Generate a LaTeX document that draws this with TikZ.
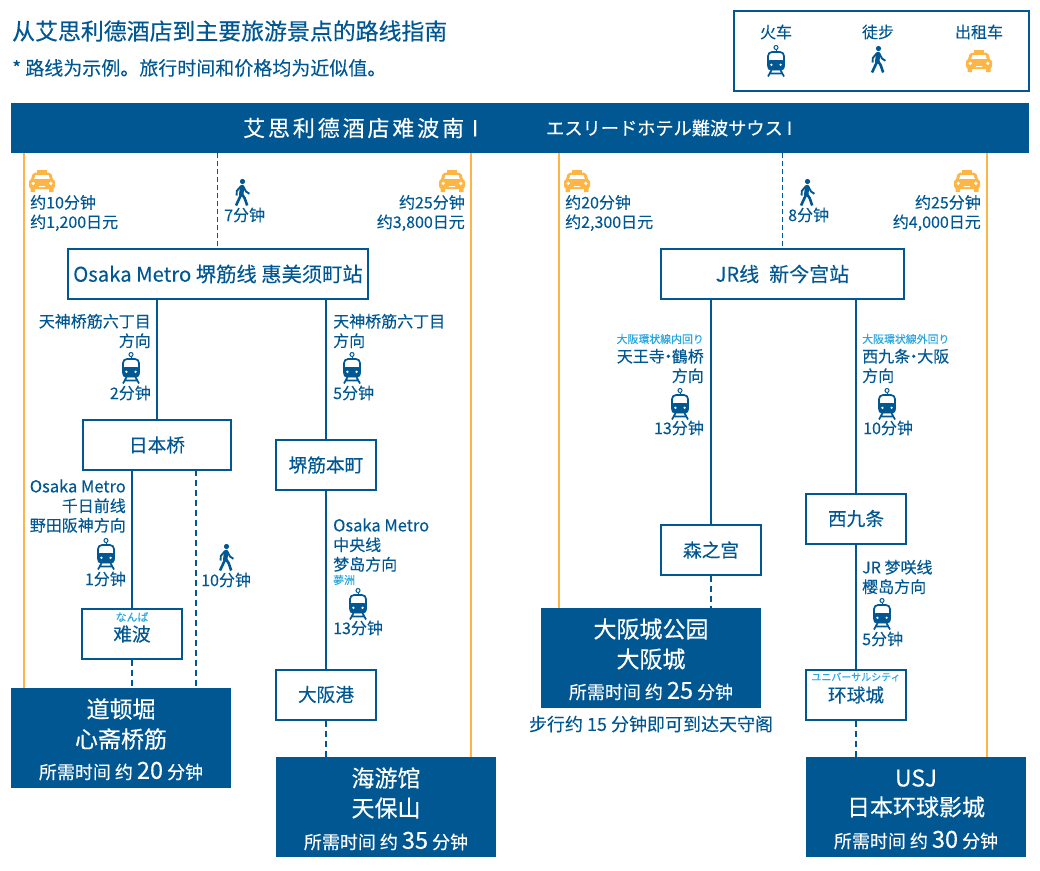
\documentclass[tikz,border=0pt]{standalone}
\usepackage{fontspec}
\setmainfont[FakeBold=0.12]{Noto Sans CJK SC}
\newfontfamily\jpfont[FakeBold=0.12]{Noto Sans CJK JP}
\newfontfamily\medfont[FakeBold=0.35]{Noto Sans CJK SC}
\usetikzlibrary{positioning,calc}
\definecolor{my blue}{HTML}{005792}
\definecolor{my yellow}{HTML}{FDB546}
\definecolor{my sky}{HTML}{29A6DE}
\newcommand{\middot}{\kern-4.5pt·\kern-4.5pt}
\tikzset{
  my text/.style={
    text=my blue,
    inner sep=0pt,
    font=\fontsize{16}{19.5}\selectfont
  },
  my small/.style={
    text=my sky,
    inner sep=0pt,
    font=\jpfont\fontsize{10.9}{12}\selectfont
  },
  my station/.style={
    draw=my blue,
    line width=2pt,
    text=my blue,
    minimum height=50pt,
    inner sep=0pt,
    font=\fontsize{18.7}{24}\selectfont
  },
  my goal/.style={
    fill=my blue,
    minimum width=220pt,
    minimum height=100pt,
    inner sep=0pt
  },
  my goal text/.style={
    text=white,
    inner sep=0pt,
    font=\medfont\fontsize{23}{27}\selectfont
  },
  my time/.style={
    text=white,
    inner sep=0pt,
    font=\fontsize{18}{22}\selectfont
  },
  my rail/.style={draw=my blue,line width=2pt},
  my walk/.style={draw=my blue,line width=2pt,dash pattern=on 6pt off 4pt},
  my thin walk/.style={draw=my blue,line width=1.3pt,dash pattern=on 5pt off 3pt},
  my taxi/.style={draw=my yellow,line width=2pt},
  pics/train icon/.style={code={
    \draw[my blue,line width=1pt] (0,-13.5) circle (2);
    \draw[my blue,line width=1pt] (0,-11.5) -- (0,-9);
    \draw[my blue,line width=1.7pt,rounded corners=4pt] (-8,-9) rectangle (8,8.5);
    \fill[my blue,rounded corners=2.5pt] (-8.5,-1) rectangle (8.5,9);
    \fill[white] (-4.6,3.8) circle (1.3) (4.6,3.8) circle (1.3);
    \draw[my blue,line width=1.7pt] (-4.5,9) -- (-8,15.5) (4.5,9) -- (8,15.5) (-6,12.5) -- (6,12.5);
  }},
  pics/walk icon/.style={code={
    \fill[my blue] (0.5,-11.5) circle (2.6);
    \draw[my blue,line width=4.4pt,line cap=round] (0.2,-6) -- (-0.8,1.5);
    \draw[my blue,line width=2.6pt] (-0.6,1) -- (-6,12.5);
    \draw[my blue,line width=2.6pt] (-0.2,1) -- (2.6,5) -- (5.2,12.5);
    \draw[my blue,line width=1.9pt] (1,-7) -- (4,-1.5) -- (7.4,0.8);
    \draw[my blue,line width=1.9pt] (-1,-7) -- (-5.2,-2) -- (-5.4,2.5);
  }},
  pics/taxi icon/.style={code={
    \fill[my yellow] (-5,-11.5) rectangle (5,-8);
    \fill[my yellow,rounded corners=2pt] (-9,-8.5) -- (9,-8.5) -- (11.5,0) -- (-11.5,0) -- cycle;
    \fill[white] (-6.5,-5.8) -- (6.5,-5.8) -- (8,-1.5) -- (-8,-1.5) -- cycle;
    \fill[my yellow,rounded corners=3pt] (-13,-2) rectangle (13,8);
    \fill[my yellow] (-11.5,7) rectangle (-7,11) (7,7) rectangle (11.5,11);
    \fill[white] (-8.8,2.4) circle (1.8) (8.8,2.4) circle (1.8) (-3.2,5) rectangle (3.2,6);
  }}
}
\begin{document}
\begin{tikzpicture}[x=1pt,y=-1pt]
\useasboundingbox (0,0) rectangle (1040,870);
% heading and legend
\node[my text,anchor=west,font=\medfont\fontsize{22.9}{26}\selectfont,text=my blue] (title) at (12,31) {从艾思利德酒店到主要旅游景点的路线指南};
\node[my text,anchor=west,font=\fontsize{19}{23}\selectfont] (note) at (12,68) {* 路线为示例。旅行时间和价格均为近似值。};
\node[draw=my blue,line width=2pt,minimum width=295pt,minimum height=80pt] (legend) at (881,50.5) {};
\node[my text] (legendtrain) at (776,32) {火车};
\node[my text] (legendwalk) at (878,32) {徒步};
\node[my text] (legendtaxi) at (979,32) {出租车};
\pic at (776,61) {train icon};
\pic at (878,60) {walk icon};
\pic at (979,61) {taxi icon};
% hotel
\node[fill=my blue,minimum width=1018pt,minimum height=50pt,inner sep=0pt] (hotel) at (520,128) {};
\node[my goal text,anchor=west,font=\medfont\fontsize{22}{26}\selectfont\addfontfeature{LetterSpace=13}] (hotelzh) at (243,128) {艾思利德酒店难波南 I};
\node[my goal text,anchor=west,font=\jpfont\fontsize{18.2}{22}\selectfont\addfontfeature{FakeBold=0.35}] (hoteljp) at (546,128) {エスリードホテル難波サウス I};
% stations
\node[my station,minimum width=300pt,font=\fontsize{20.3}{24}\selectfont] (metro) at (218,274) {Osaka Metro 堺筋线 惠美须町站};
\node[my station,minimum width=243pt,font=\fontsize{20}{24}\selectfont] (jr) at (782.5,274) {JR线\hspace{0.5em}新今宫站};
\node[my station,minimum width=148pt] (nihonbashi) at (157,445) {日本桥};
\node[my station,minimum width=100pt] (sakaisuji) at (326,465) {堺筋本町};
\node[my station,minimum width=100pt] (namba) at (132,634) {\raisebox{-5pt}{难波}};
\node[my station,minimum width=100pt] (osakako) at (326,694.5) {大阪港};
\node[my station,minimum width=100pt] (morinomiya) at (711,550) {森之宫};
\node[my station,minimum width=100pt] (nishikujo) at (856,518.5) {西九条};
\node[my station,minimum width=100pt] (universal) at (856,695) {\raisebox{-3pt}{环球城}};
\node[my small] (nambakana) at (132,617) {なんば};
\node[my small,font=\jpfont\fontsize{10}{12}\selectfont] (universalkana) at (856,677) {ユニバーサルシティ};
% goals
\node[my goal] (dotonbori) at (121,738) {};
\node[my goal] (kaiyukan) at (386,807) {};
\node[my goal] (castle) at (651,658) {};
\node[my goal] (usj) at (916,807) {};
\node[my goal text] (dotonboria) at (121,709) {道顿堀};
\node[my goal text] (dotonborib) at (121,739) {心斋桥筋};
\node[my time] (dotonboric) at (121,771) {所需时间 约 {\medfont\fontsize{23.5}{22}\selectfont 20} 分钟};
\node[my goal text] (kaiyukana) at (386,778) {海游馆};
\node[my goal text] (kaiyukanb) at (386,808) {天保山};
\node[my time] (kaiyukanc) at (386,841) {所需时间 约 {\medfont\fontsize{23.5}{22}\selectfont 35} 分钟};
\node[my goal text] (castlea) at (651,629) {大阪城公园};
\node[my goal text] (castleb) at (651,659) {大阪城};
\node[my time] (castlec) at (651,691) {所需时间 约 {\medfont\fontsize{23.5}{22}\selectfont 25} 分钟};
\node[my goal text] (usja) at (916,778) {USJ};
\node[my goal text] (usjb) at (916,807) {日本环球影城};
\node[my time] (usjc) at (916,840) {所需时间 约 {\medfont\fontsize{23.5}{22}\selectfont 30} 分钟};
\node[my text,font=\fontsize{18}{22}\selectfont] (castlewalk) at (651,724) {步行约 15 分钟即可到达天守阁};
% connector ends on the hotel and on the stations
\coordinate (t1) at (24,153);
\coordinate (t2) at (470.5,153);
\coordinate (t3) at (559,153);
\coordinate (t4) at (987,153);
\coordinate (w1) at (217.5,153);
\coordinate (w2) at (782.5,153);
\coordinate (m1) at (157,299);
\coordinate (m2) at (325.5,299);
\coordinate (j1) at (711,299);
\coordinate (j2) at (855.5,299);
\coordinate (n1) at (132,470);
\coordinate (n2) at (195.5,470);
% taxis
\draw[my taxi] (t1) -- (t1 |- dotonbori.north);
\draw[my taxi] (t2) -- (t2 |- kaiyukan.north);
\draw[my taxi] (t3) -- (t3 |- castle.north);
\draw[my taxi] (t4) -- (t4 |- usj.north);
% walks
\draw[my thin walk] (w1) -- (w1 |- metro.north);
\draw[my thin walk] (w2) -- (w2 |- jr.north);
\draw[my walk] (n2) -- (n2 |- dotonbori.north);
\draw[my walk] (namba) -- (namba |- dotonbori.north);
\draw[my walk] (osakako) -- (osakako |- kaiyukan.north);
\draw[my walk] (morinomiya) -- (morinomiya |- castle.north);
\draw[my walk] (universal) -- (universal |- usj.north);
% rails
\draw[my rail] (m1) -- (m1 |- nihonbashi.north);
\draw[my rail] (m2) -- (m2 |- sakaisuji.north);
\draw[my rail] (n1) -- (n1 |- namba.north);
\draw[my rail] (sakaisuji) -- (sakaisuji |- osakako.north);
\draw[my rail] (j1) -- (j1 |- morinomiya.north);
\draw[my rail] (j2) -- (j2 |- nishikujo.north);
\draw[my rail] (nishikujo) -- (nishikujo |- universal.north);
% icons
\foreach \x/\y in {42/181,452/181,577/181,967/181}
  \pic at (\x,\y) {taxi icon};
\foreach \x/\y in {242/193,807/193,226/558}
  \pic at (\x,\y) {walk icon};
\foreach \x/\y in {131/368,352/368,106/554,358/604,680/404,887/404,882/614}
  \pic at (\x,\y) {train icon};
% hotel to stations
\node[my text,anchor=west,align=left] (taxia) at (30,213) {约10分钟\\约1,200日元};
\node[my text,anchor=west] (walka) at (224,215) {7分钟};
\node[my text,anchor=east,align=right] (taxib) at (465,213) {约25分钟\\约3,800日元};
\node[my text,anchor=west,align=left] (taxic) at (565,213) {约20分钟\\约2,300日元};
\node[my text,anchor=west] (walkb) at (788,215) {8分钟};
\node[my text,anchor=east,align=right] (taxid) at (981,213) {约25分钟\\约4,000日元};
% Osaka Metro
\node[my text,anchor=east,align=right] (dira) at (151,331) {天神桥筋六丁目\\方向};
\node[my text,anchor=east] (mina) at (151,393) {2分钟};
\node[my text,anchor=west,align=left] (dirb) at (333,331) {天神桥筋六丁目\\方向};
\node[my text,anchor=west] (minb) at (333,393) {5分钟};
\node[my text,anchor=east,align=right] (dirc) at (126,506) {{\fontsize{16.5}{19.5}\selectfont Osaka Metro}\\千日前线\\野田阪神方向};
\node[my text,anchor=east] (minc) at (126,579) {1分钟};
\node[my text,anchor=west] (mind) at (201,580) {10分钟};
\node[my text,anchor=west,align=left] (dird) at (333,545) {{\fontsize{16.5}{19.5}\selectfont Osaka Metro}\\中央线\\梦岛方向};
\node[my small,anchor=west] (yumeshima) at (333,580) {夢洲};
\node[my text,anchor=west] (mine) at (333,628) {13分钟};
% JR
\node[my small,anchor=east] (loopin) at (704,339) {大阪環状線内回り};
\node[my text,anchor=east,align=right] (dire) at (704,366) {天王寺\middot 鶴桥\\方向};
\node[my text,anchor=east] (minf) at (704,428) {13分钟};
\node[my small,anchor=west] (loopout) at (862,339) {大阪環状線外回り};
\node[my text,anchor=west,align=left] (dirf) at (862,366) {西九条\middot 大阪\\方向};
\node[my text,anchor=west] (ming) at (863,428) {10分钟};
\node[my text,anchor=west,align=left] (dirg) at (862,577) {JR 梦咲线\\樱岛方向};
\node[my text,anchor=west] (minh) at (862,639) {5分钟};
\end{tikzpicture}
\end{document}
